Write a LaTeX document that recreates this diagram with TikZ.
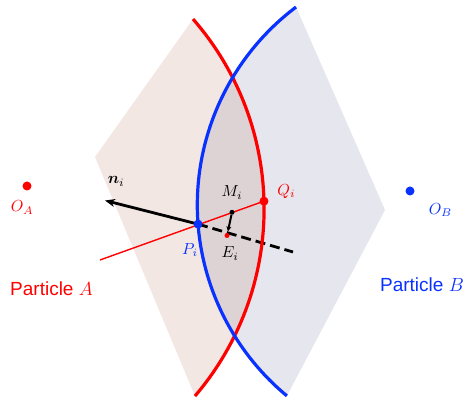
\RequirePackage{fix-cm}
\documentclass[tikz,border=0pt]{standalone}
\usepackage{amsmath}
\usepackage{bm}
\usepackage{fontspec}
\usepackage{xcolor}
\usepackage{tikz}
\usetikzlibrary{arrows.meta,positioning,calc}
\newfontfamily\partfont{Liberation Sans}
\definecolor{redA}{HTML}{FF0000}
\definecolor{blueB}{HTML}{0A32FF}
\definecolor{shadeA}{HTML}{F3E7E3}
\definecolor{shadeB}{HTML}{E5E6EE}
\definecolor{shadeAB}{HTML}{DDD3D5}
\pgfdeclarelayer{bg}
\pgfdeclarelayer{mid}
\pgfsetlayers{bg,mid,main}
\tikzset{
  spot/.style={circle, inner sep=0pt, minimum size=9pt},
  smallspot/.style={circle, inner sep=0pt, minimum size=5pt},
  mlbl/.style={scale=1.6, inner sep=0.6pt},
  plbl/.style={font=\fontsize{19}{22}\selectfont\partfont, inner sep=1pt},
  arcline/.style={line width=3.2pt},
  narr/.style={-{Stealth[length=10pt, width=8pt]}, line width=2.8pt},
  ndash/.style={line width=2.8pt, dash pattern=on 10pt off 5pt},
  marr/.style={-{Stealth[length=5pt, width=5pt]}, line width=2pt, shorten >=1.5pt}
}
\begin{document}
\begin{tikzpicture}[x=1pt, y=1pt]
\useasboundingbox (0,0) rectangle (465,406);
\coordinate (cA) at (-24.4,197.3);
\coordinate (cB) at (445.3,200.9);
\coordinate (Atop) at ($(cA)+(41.1:288.5)$);
\coordinate (Abot) at ($(cA)+(-40.5:288.5)$);
\coordinate (Btop) at ($(cB)+(127:248)$);
\coordinate (Bbot) at ($(cB)+(230.3:248)$);
\coordinate (Aleft) at (95,249);
\coordinate (Bright) at (385,196);
\def\regionA{(Atop) -- (Aleft) -- (Abot) arc[start angle=-40.5, end angle=41.1, radius=288.5] -- cycle}
\def\regionB{(Btop) -- (Bright) -- (Bbot) arc[start angle=230.3, end angle=127, radius=248] -- cycle}

\node[spot, fill=redA] (OA) at (27,220) {};
\node[spot, fill=blueB] (OB) at (410,215) {};
\node[spot, fill=blueB] (P) at ($(cB)+(184.4:248)$) {};
\node[spot, fill=redA] (Q) at ($(cA)+(1.5:288.5)$) {};
\node[smallspot, fill=black] (M) at (232,193.7) {};
\node[smallspot, fill=redA] (E) at (227,170.5) {};
\coordinate (rstart) at (100,146);
\coordinate (ntip) at (105,205.5);
\coordinate (nend) at (293,154);

\node[mlbl, redA, below=9pt of OA, xshift=-3pt] (OAl) {$O_A$};
\node[mlbl, blueB, right=13pt of OB, yshift=-12pt] (OBl) {$O_B$};
\node[mlbl, blueB, below=13pt of P, xshift=-5pt] (Pl) {$P_i$};
\node[mlbl, redA, right=7.5pt of Q, yshift=6pt] (Ql) {$Q_i$};
\node[mlbl, above=9pt of M, xshift=0pt] (Ml) {$M_i$};
\node[mlbl, below=7.5pt of E, xshift=2pt] (El) {$E_i$};
\node[mlbl, above right=13pt and 1.5pt of ntip] (nl) {$\bm{n}_i$};
\node[plbl, redA] (partA) at (51.5,117) {Particle $A$};
\node[plbl, blueB] (partB) at (422,121) {Particle $B$};

\begin{pgfonlayer}{bg}
\fill[shadeA] \regionA;
\fill[shadeB] \regionB;
\begin{scope}
\clip \regionA;
\fill[shadeAB] \regionB;
\end{scope}
\end{pgfonlayer}

\begin{pgfonlayer}{mid}
\draw[redA, line width=1.4pt] (rstart) -- (Q.center);
\draw[narr] (P.center) -- (ntip);
\draw[ndash] (P.center) -- (nend);
\draw[arcline, redA] (Abot) arc[start angle=-40.5, end angle=41.1, radius=288.5];
\draw[arcline, blueB] (Btop) arc[start angle=127, end angle=230.3, radius=248];
\draw[marr] (M) -- (E);
\end{pgfonlayer}
\end{tikzpicture}
\end{document}
